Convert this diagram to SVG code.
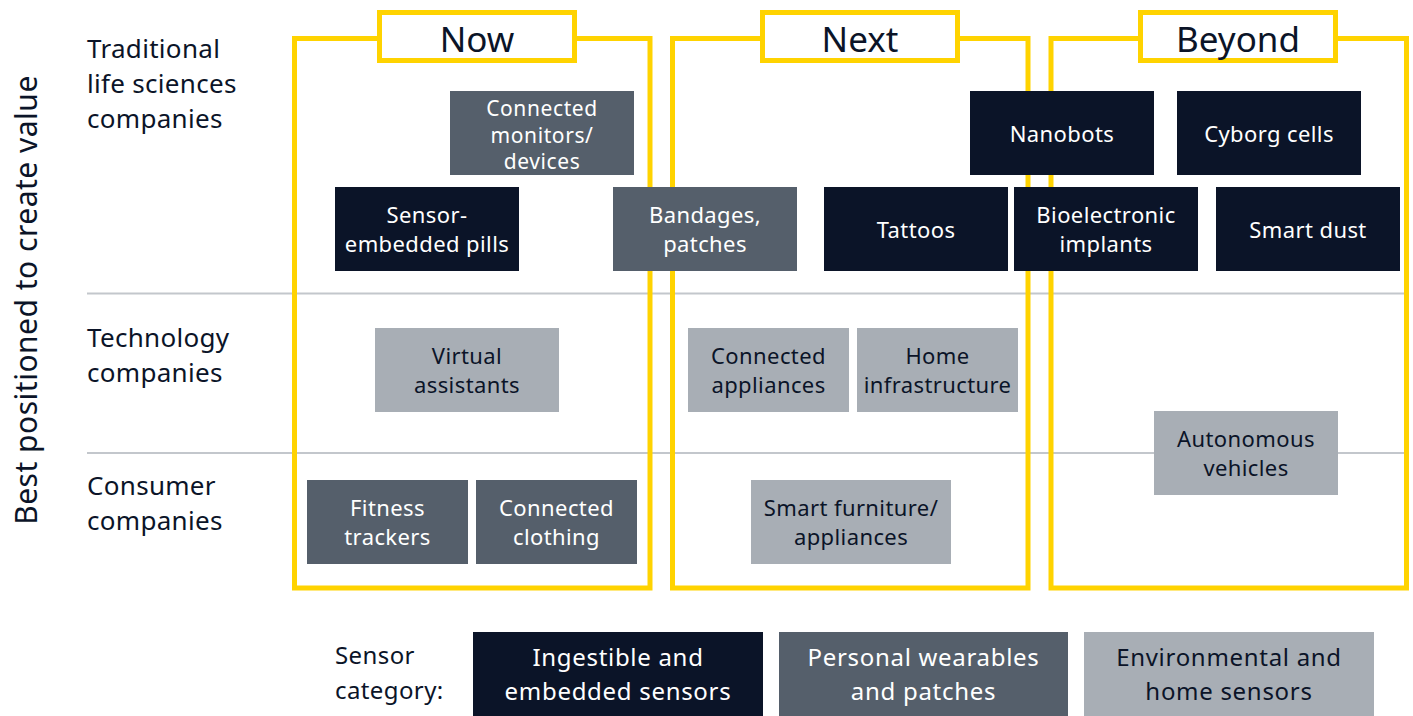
<svg xmlns="http://www.w3.org/2000/svg" width="1413" height="716" viewBox="0 0 1413 716">
<style>
  text { font-family: "Noto Sans", "Open Sans", "Liberation Sans", sans-serif; }
  .frame { fill: none; stroke: #ffd300; stroke-width: 5; }
  .hdr { fill: #ffffff; stroke: #ffd300; stroke-width: 5; }
  .hdrt { font-size: 35px; fill: #0b1428; text-anchor: middle; }
  .row { font-size: 26px; fill: #0b1428; letter-spacing: 0.3px; }
  .grid { stroke: #c3c7cc; stroke-width: 2; }
  .dark { fill: #0b1428; }
  .mid { fill: #555f6b; }
  .light { fill: #a8aeb5; }
  .tw { font-size: 22px; fill: #ffffff; text-anchor: middle; letter-spacing: 0.4px; }
  .tk { font-size: 22px; fill: #0b1428; text-anchor: middle; letter-spacing: 0.4px; }
  .tw3 { font-size: 21px; fill: #ffffff; text-anchor: middle; letter-spacing: 0.6px; }
  .lw { font-size: 24px; fill: #ffffff; text-anchor: middle; letter-spacing: 0.7px; }
  .lk { font-size: 24px; fill: #0b1428; text-anchor: middle; letter-spacing: 0.7px; }
</style>
<rect width="1413" height="716" fill="#ffffff"/>

<g id="axis">
  <text x="0" y="0" transform="translate(37,300) rotate(-90)" font-size="30" letter-spacing="0.5" fill="#0b1428" text-anchor="middle">Best positioned to create value</text>
</g>
<g id="row-labels">
  <text class="row" x="87" y="58">Traditional</text>
  <text class="row" x="87" y="93">life sciences</text>
  <text class="row" x="87" y="128">companies</text>
  <text class="row" x="87" y="347">Technology</text>
  <text class="row" x="87" y="382">companies</text>
  <text class="row" x="87" y="495">Consumer</text>
  <text class="row" x="87" y="530">companies</text>
</g>
<g id="gridlines">
  <line class="grid" x1="87" y1="293.5" x2="1406" y2="293.5"/>
  <line class="grid" x1="87" y1="453" x2="1406" y2="453"/>
</g>

<g id="col-now">
  <rect class="frame" x="294.5" y="38.5" width="355.5" height="549.5"/>
  <rect class="hdr" x="379.5" y="12.5" width="195" height="48"/>
  <text class="hdrt" x="477" y="52">Now</text>
</g>
<g id="col-next">
  <rect class="frame" x="672.5" y="38.5" width="355.5" height="549.5"/>
  <rect class="hdr" x="762.5" y="12.5" width="195" height="48"/>
  <text class="hdrt" x="860" y="52">Next</text>
</g>
<g id="col-beyond">
  <rect class="frame" x="1051" y="38.5" width="355.5" height="549.5"/>
  <rect class="hdr" x="1140.5" y="12.5" width="195" height="48"/>
  <text class="hdrt" x="1238" y="52">Beyond</text>
</g>

<g id="connectors"></g>

<g id="n-monitors">
  <rect class="mid" x="450" y="91" width="184" height="84"/>
  <text class="tw3" x="542" y="116">Connected</text>
  <text class="tw3" x="542" y="143">monitors/</text>
  <text class="tw3" x="542" y="169">devices</text>
</g>
<g id="n-pills">
  <rect class="dark" x="335" y="187" width="184" height="84"/>
  <text class="tw" x="427" y="223">Sensor-</text>
  <text class="tw" x="427" y="252">embedded pills</text>
</g>
<g id="n-bandages">
  <rect class="mid" x="613" y="187" width="184" height="84"/>
  <text class="tw" x="705" y="223">Bandages,</text>
  <text class="tw" x="705" y="252">patches</text>
</g>
<g id="n-tattoos">
  <rect class="dark" x="824" y="187" width="184" height="84"/>
  <text class="tw" x="916" y="238">Tattoos</text>
</g>
<g id="n-nanobots">
  <rect class="dark" x="970" y="91" width="184" height="84"/>
  <text class="tw" x="1062" y="142">Nanobots</text>
</g>
<g id="n-cyborg">
  <rect class="dark" x="1177" y="91" width="184" height="84"/>
  <text class="tw" x="1269" y="142">Cyborg cells</text>
</g>
<g id="n-bioelectronic">
  <rect class="dark" x="1014" y="187" width="184" height="84"/>
  <text class="tw" x="1106" y="223">Bioelectronic</text>
  <text class="tw" x="1106" y="252">implants</text>
</g>
<g id="n-smartdust">
  <rect class="dark" x="1216" y="187" width="184" height="84"/>
  <text class="tw" x="1308" y="238">Smart dust</text>
</g>
<g id="n-virtual">
  <rect class="light" x="375" y="328" width="184" height="84"/>
  <text class="tk" x="467" y="364">Virtual</text>
  <text class="tk" x="467" y="393">assistants</text>
</g>
<g id="n-appliances">
  <rect class="light" x="688" y="328" width="161" height="84"/>
  <text class="tk" x="768.5" y="364">Connected</text>
  <text class="tk" x="768.5" y="393">appliances</text>
</g>
<g id="n-home">
  <rect class="light" x="857" y="328" width="161" height="84"/>
  <text class="tk" x="937.5" y="364">Home</text>
  <text class="tk" x="937.5" y="393" letter-spacing="0">infrastructure</text>
</g>
<g id="n-autonomous">
  <rect class="light" x="1154" y="411" width="184" height="84"/>
  <text class="tk" x="1246" y="447">Autonomous</text>
  <text class="tk" x="1246" y="476">vehicles</text>
</g>
<g id="n-fitness">
  <rect class="mid" x="307" y="480" width="161" height="84"/>
  <text class="tw" x="387.5" y="516">Fitness</text>
  <text class="tw" x="387.5" y="545">trackers</text>
</g>
<g id="n-clothing">
  <rect class="mid" x="476" y="480" width="161" height="84"/>
  <text class="tw" x="556.5" y="516">Connected</text>
  <text class="tw" x="556.5" y="545">clothing</text>
</g>
<g id="n-furniture">
  <rect class="light" x="751" y="480" width="200" height="84"/>
  <text class="tk" x="851" y="516">Smart furniture/</text>
  <text class="tk" x="851" y="545">appliances</text>
</g>

<g id="legend">
  <text font-size="24" letter-spacing="0.4" fill="#0b1428" x="335" y="664">Sensor</text>
  <text font-size="24" letter-spacing="0.4" fill="#0b1428" x="335" y="699">category:</text>
  <rect class="dark" x="473" y="632" width="290" height="84"/>
  <text class="lw" x="618" y="666">Ingestible and</text>
  <text class="lw" x="618" y="700">embedded sensors</text>
  <rect class="mid" x="779" y="632" width="289" height="84"/>
  <text class="lw" x="923.5" y="666">Personal wearables</text>
  <text class="lw" x="923.5" y="700">and patches</text>
  <rect class="light" x="1084" y="632" width="290" height="84"/>
  <text class="lk" x="1229" y="666">Environmental and</text>
  <text class="lk" x="1229" y="700">home sensors</text>
</g>
</svg>
